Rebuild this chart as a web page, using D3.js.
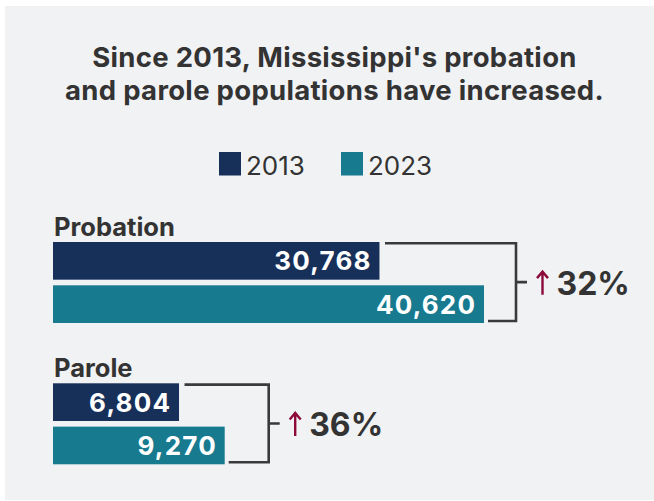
<!DOCTYPE html>
<html>
<head>
<meta charset="utf-8">
<script src="https://cdn.jsdelivr.net/npm/d3@7"></script>
<style>
  html, body { margin: 0; padding: 0; background: #ffffff; }
  svg { display: block; }
  text { font-family: Inter, Roboto, "Liberation Sans", sans-serif; }
</style>
</head>
<body>
<div id="chart"></div>
<script>
// Supervised populations in Mississippi
const groups = ["Probation", "Parole"];
const years = ["2013", "2023"];
const values2013 = [30768, 6804];
const values2023 = [40620, 9270];
const changeLabels = ["32%", "36%"];
const titleLines = ["Since 2013, Mississippi's probation", "and parole populations have increased."];

const colors = { "2013": "#17305a", "2023": "#177a8f" };
const textColor = "#333333";
const arrowColor = "#8c0a3a";

const W = 654, H = 501;
const svg = d3.select("#chart").append("svg").attr("width", W).attr("height", H);

// panel background
svg.append("rect").attr("x", 5).attr("y", 6).attr("width", W - 5).attr("height", H - 7).attr("fill", "#f1f2f4");

// title
svg.append("g").selectAll("text").data(titleLines).join("text")
  .attr("x", 334.5).attr("y", (d, i) => 67.3 + i * 33)
  .attr("text-anchor", "middle")
  .attr("font-size", 27.5).attr("font-weight", 700)
  .attr("letter-spacing", 0.3)
  .attr("fill", textColor)
  .text(d => d);

// legend
const legendX = { "2013": 219, "2023": 341 };
const legend = svg.append("g").selectAll("g").data(years).join("g")
  .attr("transform", d => `translate(${legendX[d]},152)`);
legend.append("rect").attr("width", 22).attr("height", 23.5).attr("fill", d => colors[d]);
legend.append("text").attr("x", 27).attr("y", 23).attr("font-size", 26).attr("font-weight", 400)
  .attr("fill", textColor).text(d => d);

// layout scales
const yGroup = d3.scaleBand().domain(groups).range([242, 242 + 2 * 141.3]);
const yYear = d3.scaleBand().domain(years).range([0, 81]).paddingInner(0.13);
const barLeft = 53;
const barMax = [484, 224.7];   // right edge of the longest bar per group
const bracketGap = [32, 44];

const rows = groups.map((g, i) => ({
  group: g,
  change: changeLabels[i],
  x: d3.scaleLinear().domain([0, Math.max(values2013[i], values2023[i])]).range([barLeft, barMax[i]]),
  bars: [{ year: "2013", value: values2013[i] }, { year: "2023", value: values2023[i] }],
  gap: bracketGap[i]
}));

const fmt = d3.format(",");

const rowG = svg.append("g").selectAll("g").data(rows).join("g")
  .attr("transform", d => `translate(0,${yGroup(d.group)})`);

// group labels
rowG.append("text").attr("x", 54).attr("y", -6)
  .attr("font-size", 25.5).attr("font-weight", 700).attr("fill", textColor)
  .text(d => d.group);

rowG.each(function (row) {
  const g = d3.select(this);
  const bh = yYear.bandwidth();
  g.selectAll("rect.bar").data(row.bars).join("rect").attr("class", "bar")
    .attr("x", barLeft)
    .attr("y", d => yYear(d.year))
    .attr("width", d => row.x(d.value) - barLeft)
    .attr("height", bh)
    .attr("fill", d => colors[d.year]);

  g.selectAll("text.val").data(row.bars).join("text").attr("class", "val")
    .attr("x", d => row.x(d.value) - 7.8)
    .attr("y", d => yYear(d.year) + bh / 2 + 9.4)
    .attr("text-anchor", "end")
    .attr("font-size", 26).attr("font-weight", 700).attr("fill", "#ffffff")
    .attr("letter-spacing", 1.2)
    .text(d => fmt(d.value));

  // bracket joining the two bars
  const xEnd = d3.max(row.bars, d => row.x(d.value));
  const bx = xEnd + row.gap;
  const yTop = yYear("2013") + 1.3;
  const yBot = yYear("2023") + bh - 2;
  const yMid = (yTop + yBot) / 2;
  const x13 = row.x(row.bars[0].value) + 5.5;
  const x23 = row.x(row.bars[1].value) + 4;
  g.append("path")
    .attr("d", `M${x13},${yTop}H${bx}V${yBot}H${x23}M${bx},${yMid}H${bx + 11}`)
    .attr("fill", "none").attr("stroke", "#3a3a3a").attr("stroke-width", 2.6);

  // upward arrow
  const ax = bx + 26.5, aTop = yMid - 10.5, aBot = yMid + 12.5;
  g.append("path")
    .attr("d", `M${ax},${aBot}V${aTop + 1}M${ax - 5.5},${aTop + 6.5}L${ax},${aTop}L${ax + 5.5},${aTop + 6.5}`)
    .attr("fill", "none").attr("stroke", arrowColor).attr("stroke-width", 2.4)
    .attr("stroke-linejoin", "miter").attr("stroke-linecap", "butt");

  g.append("text").attr("x", bx + 40.5).attr("y", yMid + 13)
    .attr("font-size", 32).attr("font-weight", 700).attr("fill", textColor)
    .text(row.change);
});
</script>
</body>
</html>
